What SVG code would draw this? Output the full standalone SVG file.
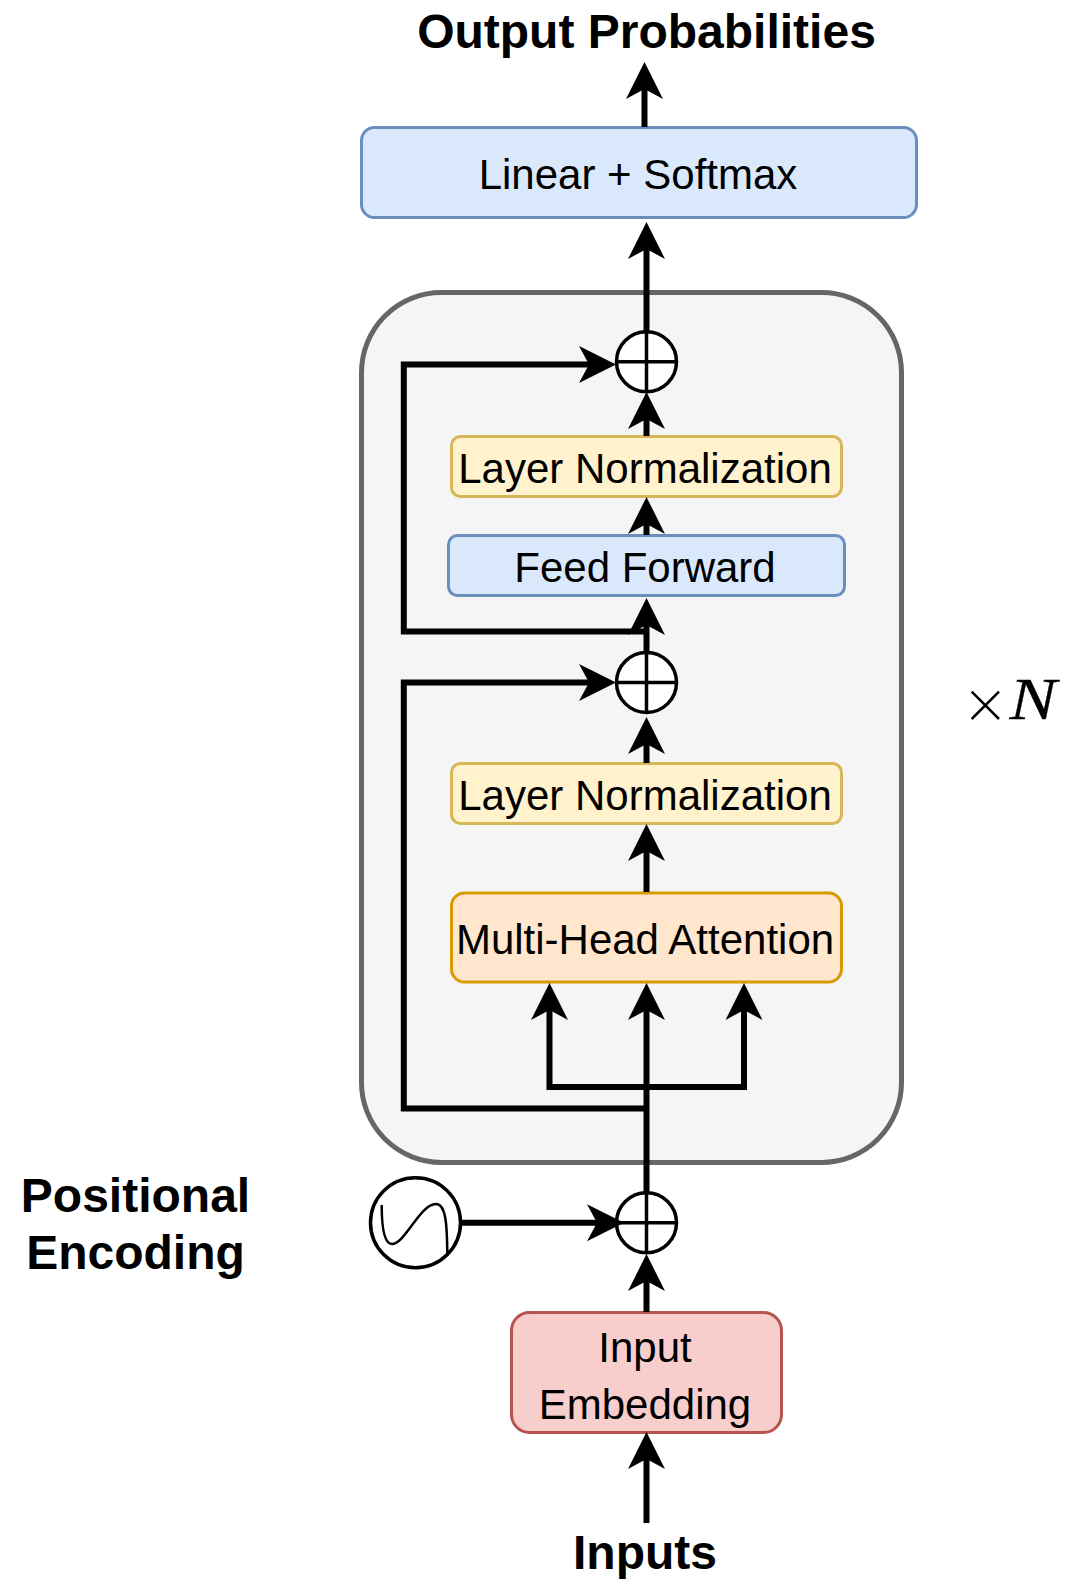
<svg xmlns="http://www.w3.org/2000/svg" width="1077" height="1584" viewBox="0 0 1077 1584">
<style>
text{font-family:"Liberation Sans",Arial,sans-serif;text-anchor:middle;fill:#000}
.b{font-size:48px;font-weight:bold}
.t{font-size:42px}
.r{stroke-width:3}
.c{fill:none;stroke:#000;stroke-width:6;marker-end:url(#a)}
.s{fill:#fff;stroke:#000;stroke-width:3.500}
.x{fill:none;stroke:#000;stroke-width:3.500}
</style>
<defs><marker id="a" markerUnits="userSpaceOnUse" markerWidth="40" markerHeight="40" viewBox="0 0 40 40" refX="12" refY="20" orient="auto"><path d="M2 1.500L39 20L2 38.500L12 20Z" fill="#000"/></marker></defs>
<rect width="1077" height="1584" fill="#fff"/>
<g id="container"><rect x="361.500" y="292.500" width="540" height="870" rx="80" fill="#f5f5f5" stroke="#666" stroke-width="5"/></g>
<g id="output-label"><text class="b" x="646.500" y="48">Output Probabilities</text></g>
<g id="linear"><rect class="r" x="361.500" y="127.500" width="555" height="90" rx="13" fill="#dae8fc" stroke="#6c8ebf"/><text class="t" x="638" y="189">Linear + Softmax</text></g>
<g id="norm2"><rect class="r" x="451.500" y="436.500" width="390" height="60" rx="9" fill="#fff2cc" stroke="#d6b656"/><text class="t" x="645" y="483">Layer Normalization</text></g>
<g id="ff"><rect class="r" x="448.500" y="535.500" width="396" height="60" rx="9" fill="#dae8fc" stroke="#6c8ebf"/><text class="t" x="645" y="582">Feed Forward</text></g>
<g id="norm1"><rect class="r" x="451.500" y="763.500" width="390" height="60" rx="9" fill="#fff2cc" stroke="#d6b656"/><text class="t" x="645" y="810">Layer Normalization</text></g>
<g id="mha"><rect class="r" x="451.500" y="893" width="390" height="89" rx="13" fill="#ffe6cc" stroke="#d79b00"/><text class="t" x="645" y="954">Multi-Head Attention</text></g>
<g id="embedding"><rect class="r" x="511.500" y="1312.500" width="270" height="120" rx="18" fill="#f8cecc" stroke="#b85450"/><text class="t" x="645" y="1362">Input</text><text class="t" x="645" y="1419">Embedding</text></g>
<g id="sum3"><circle class="s" cx="646.500" cy="361.700" r="30"/><path class="x" d="M616.500 361.700H676.500M646.500 331.700V391.700"/></g>
<g id="sum2"><circle class="s" cx="646.500" cy="682.400" r="30"/><path class="x" d="M616.500 682.400H676.500M646.500 652.400V712.400"/></g>
<g id="sum1"><circle class="s" cx="646.500" cy="1222.700" r="30"/><path class="x" d="M616.500 1222.700H676.500M646.500 1192.700V1252.700"/></g>
<g id="pe"><circle class="s" cx="415.500" cy="1222.700" r="45"/><path d="M381.700 1205C381.700 1230 385 1244 392 1244C405 1244 420 1204 436 1204C446 1204 447 1225 447.300 1253" fill="none" stroke="#000" stroke-width="2.500"/></g>
<g id="pe-label"><text class="b" x="135.500" y="1212">Positional</text><text class="b" x="135.500" y="1269">Encoding</text></g>
<g id="inputs-label"><text class="b" x="645" y="1568.500">Inputs</text></g>
<g id="times-n"><path d="M971.700 691.700L999 719M999 691.700L971.700 719" fill="none" stroke="#000" stroke-width="2.500"/><text x="1033" y="719" font-size="59" style="font-family:'Liberation Serif',serif;font-style:italic" textLength="47" lengthAdjust="spacingAndGlyphs" stroke="#000" stroke-width="0.300">N</text></g>
<g id="connectors">
<path class="c" d="M644.500 127V89"/>
<path class="c" d="M646.500 332V249"/>
<path class="c" d="M646.500 436V419"/>
<path class="c" d="M646.500 535V524"/>
<path class="c" d="M646.500 652V625"/>
<path class="c" d="M646.500 763V744"/>
<path class="c" d="M646.500 892V851"/>
<path class="c" d="M646.500 1193V1010"/>
<path class="c" d="M646.500 1087H549.500V1010"/>
<path class="c" d="M646.500 1087H744V1010"/>
<path class="c" d="M646.500 1108.500H403.800V682.400H589"/>
<path class="c" d="M646.500 631.500H403.800V364.500H589"/>
<path class="c" d="M460 1222.700H597"/>
<path class="c" d="M646.500 1312V1281"/>
<path class="c" d="M646.500 1523V1459"/>
</g>
</svg>
